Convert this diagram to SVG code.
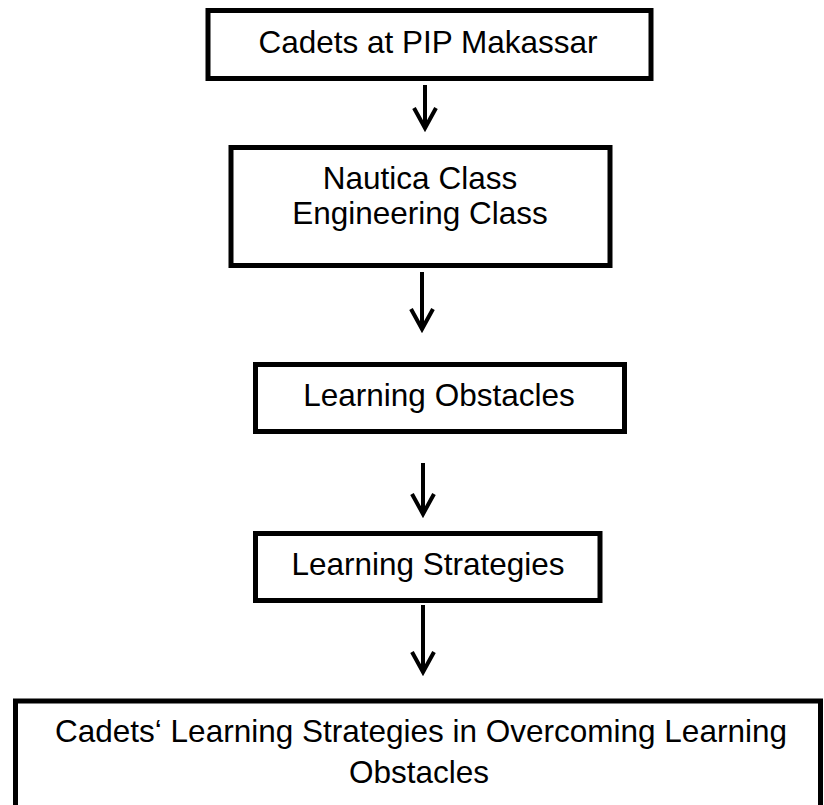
<svg xmlns="http://www.w3.org/2000/svg" width="824" height="805" viewBox="0 0 824 805">
<defs>
<style>
.box{fill:#fff;stroke:#000;stroke-width:5}
.lbl{font-family:"Liberation Sans",Arial,Helvetica,sans-serif;font-size:31.5px;fill:#000;text-anchor:middle}
.cn{fill:none;stroke:#000;stroke-width:4;stroke-linejoin:miter}
</style>
</defs>
<rect width="824" height="805" fill="#fff"/>
<g id="connectors">
<path class="cn" d="M425,85 V128 M414,108 L425,128 L436,108"/>
<path class="cn" d="M422,272 V329 M411,309 L422,329 L433,309"/>
<path class="cn" d="M423,463 V514 M412,494 L423,514 L434,494"/>
<path class="cn" d="M423,605 V672 M412,652 L423,672 L434,652"/>
</g>
<g id="n1">
<rect class="box" x="208" y="10.5" width="443" height="68"/>
<text class="lbl" x="428" y="53">Cadets at PIP Makassar</text>
</g>
<g id="n2">
<rect class="box" x="231" y="147.5" width="379" height="118"/>
<text class="lbl" x="420" y="189">Nautica Class</text>
<text class="lbl" x="420" y="224">Engineering Class</text>
</g>
<g id="n3">
<rect class="box" x="255.5" y="364.5" width="369" height="67"/>
<text class="lbl" x="439" y="405.5">Learning Obstacles</text>
</g>
<g id="n4">
<rect class="box" x="255.5" y="533.5" width="344.5" height="67"/>
<text class="lbl" x="428" y="575">Learning Strategies</text>
</g>
<g id="n5">
<rect class="box" x="15.5" y="701" width="805" height="130"/>
<text class="lbl" x="421" y="742">Cadets‘ Learning Strategies in Overcoming Learning</text>
<text class="lbl" x="419" y="783">Obstacles</text>
</g>
</svg>
